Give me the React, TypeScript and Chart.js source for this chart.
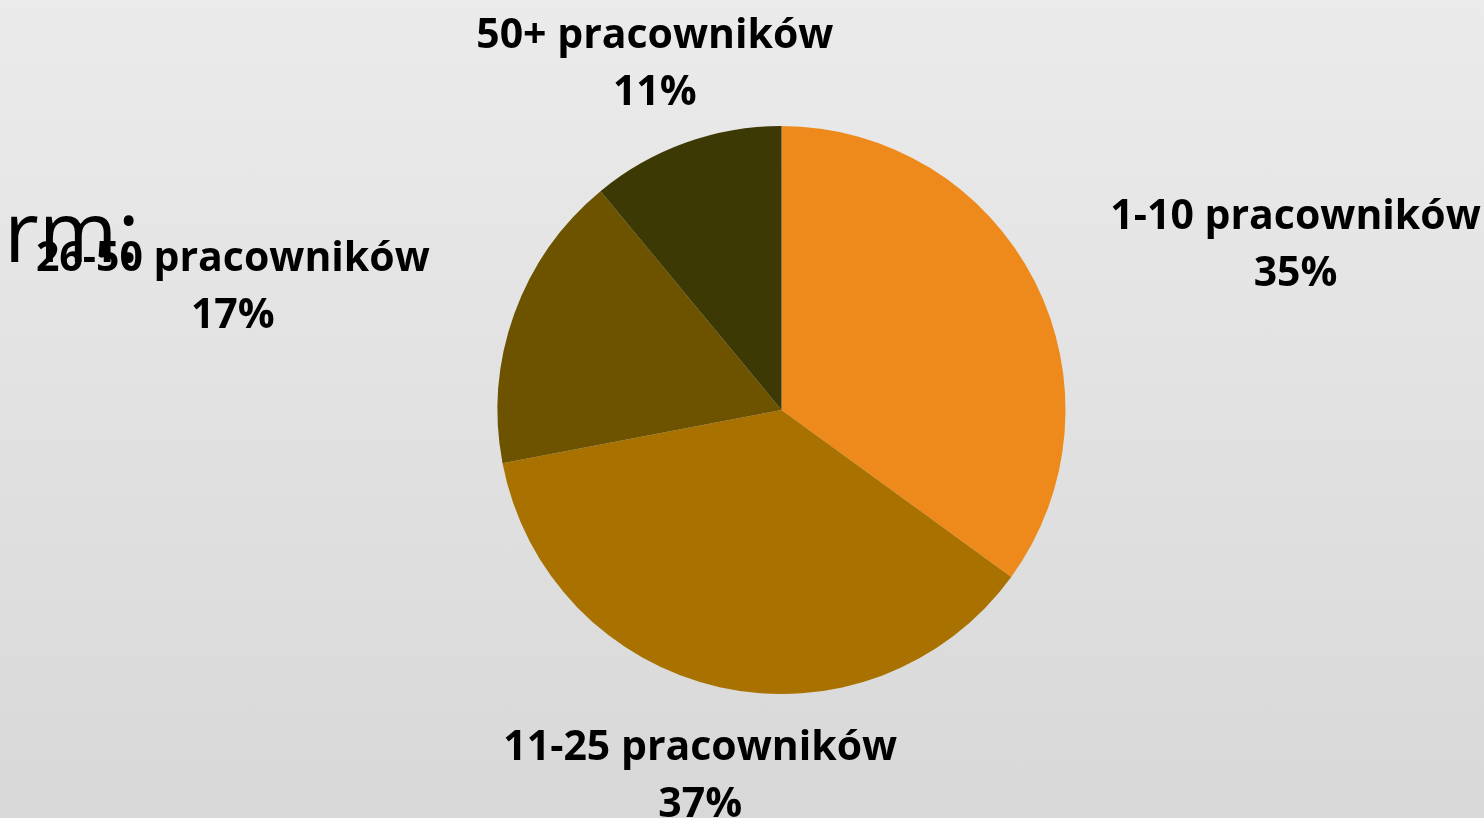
import React, { useEffect, useRef } from "react";
import { Chart, registerables } from "chart.js";

Chart.register(...registerables);

const categories = ["1-10 pracowników", "11-25 pracowników", "26-50 pracowników", "50+ pracowników"];
const shares = [35, 37, 17, 11];
const sliceColors = ["#EE8A1B", "#A97200", "#6D5300", "#3D3904"];
// label anchor offsets relative to pie centre, in units of the radius (layout only)
const labelOffsets = [
  [1.81, -0.636],
  [-0.286, 1.231],
  [-1.932, -0.489],
  [-0.446, -1.276],
];

const labelPlugin = {
  id: "outsideLabels",
  afterDatasetsDraw(chart: any) {
    const meta = chart.getDatasetMeta(0);
    const ctx = chart.ctx;
    const data = chart.data.datasets[0].data as number[];
    const total = data.reduce((a: number, b: number) => a + b, 0);
    ctx.save();
    ctx.fillStyle = "#000";
    ctx.font = "bold 41px 'Open Sans'";
    ctx.textAlign = "center";
    ctx.textBaseline = "alphabetic";
    meta.data.forEach((arc: any, i: number) => {
      const r = arc.outerRadius;
      const x = arc.x + labelOffsets[i][0] * r;
      const y = arc.y + labelOffsets[i][1] * r;
      const pct = Math.round((data[i] / total) * 100) + "%";
      ctx.fillText(chart.data.labels[i], x, y);
      ctx.fillText(pct, x, y + 57);
    });
    ctx.restore();
  },
};

export default function App() {
  const ref = useRef<HTMLCanvasElement>(null);
  useEffect(() => {
    document.body.style.margin = "0";
    const chart = new Chart(ref.current!, {
      type: "pie",
      data: {
        labels: categories,
        datasets: [
          {
            data: shares,
            backgroundColor: sliceColors,
            borderWidth: 0,
          },
        ],
      },
      options: {
        responsive: false,
        animation: false,
        layout: { padding: { left: 497, right: 418, top: 126, bottom: 124 } },
        plugins: { legend: { display: false }, tooltip: { enabled: false } },
      },
      plugins: [labelPlugin],
    });
    return () => chart.destroy();
  }, []);
  return (
    <div
      style={{
        position: "relative",
        width: 1484,
        height: 818,
        overflow: "hidden",
        background: "linear-gradient(to bottom, #ebebeb, #d8d8d8)",
      }}
    >
      <div
        style={{
          position: "absolute",
          left: 4,
          top: 174,
          fontFamily: "'Open Sans'",
          fontSize: 85,
          lineHeight: "110px",
          color: "#000",
          whiteSpace: "nowrap",
        }}
      >
        rm:
      </div>
      <canvas ref={ref} width={1484} height={818} style={{ position: "absolute", left: 0, top: 0 }} />
    </div>
  );
}
